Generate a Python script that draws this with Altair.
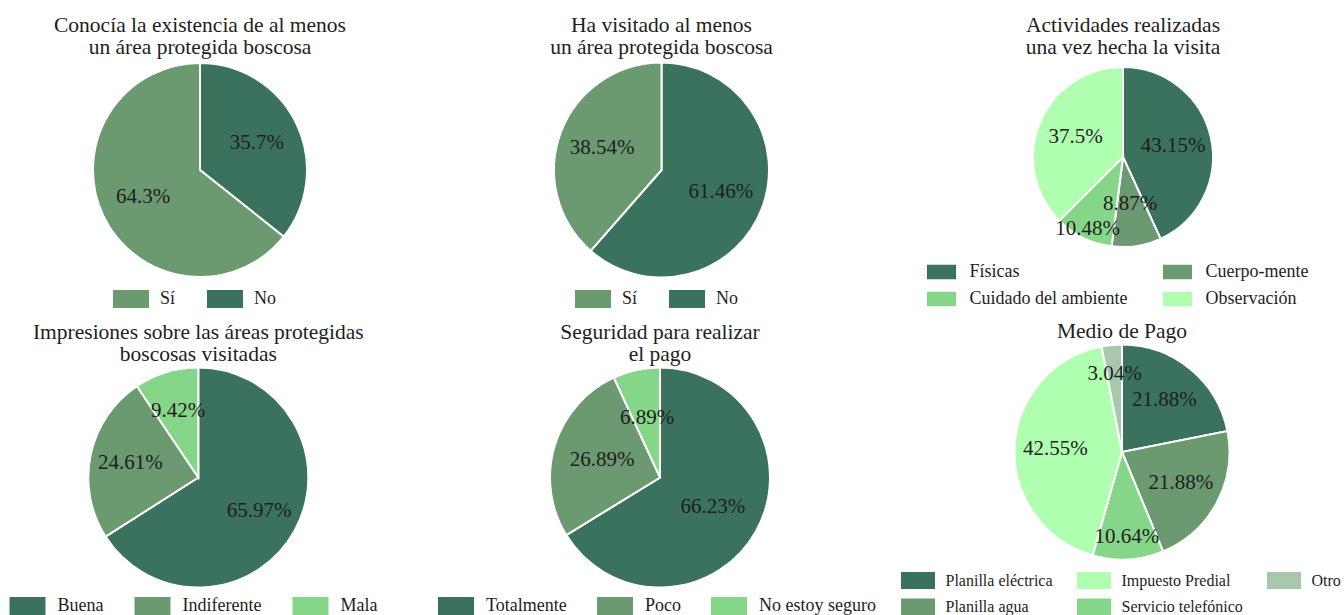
import math
import altair as alt
import pandas as pd

FONT = "Liberation Serif"
TXT = "#1e1e1e"

DARK = "#3a725e"
MID = "#6b9970"
LIGHT = "#85d689"
PALE = "#b0ffb0"
GREY = "#a8c7ac"

# ---------------- data ----------------
t1 = "Conocía la existencia de al menos\nun área protegida boscosa"
c1_cats = ["No", "Sí"]
c1_vals = [35.7, 64.3]
c1_legend = ["Sí", "No"]
c1_colors = [MID, DARK]

t2 = "Ha visitado al menos\nun área protegida boscosa"
c2_cats = ["No", "Sí"]
c2_vals = [61.46, 38.54]
c2_legend = ["Sí", "No"]
c2_colors = [MID, DARK]

t3 = "Actividades realizadas\nuna vez hecha la visita"
c3_cats = ["Físicas", "Cuerpo-mente", "Cuidado del ambiente", "Observación"]
c3_vals = [43.15, 8.87, 10.48, 37.5]
c3_legend = ["Físicas", "Cuerpo-mente", "Cuidado del ambiente", "Observación"]
c3_colors = [DARK, MID, LIGHT, PALE]

t4 = "Impresiones sobre las áreas protegidas\nboscosas visitadas"
c4_cats = ["Buena", "Indiferente", "Mala"]
c4_vals = [65.97, 24.61, 9.42]
c4_legend = ["Buena", "Indiferente", "Mala"]
c4_colors = [DARK, MID, LIGHT]

t5 = "Seguridad para realizar\nel pago"
c5_cats = ["Totalmente", "Poco", "No estoy seguro"]
c5_vals = [66.23, 26.89, 6.89]
c5_legend = ["Totalmente", "Poco", "No estoy seguro"]
c5_colors = [DARK, MID, LIGHT]

t6 = "Medio de Pago"
c6_cats = ["Planilla eléctrica", "Planilla agua", "Servicio telefónico", "Impuesto Predial", "Otro"]
c6_vals = [21.88, 21.88, 10.64, 42.55, 3.04]
c6_legend = ["Planilla eléctrica", "Impuesto Predial", "Otro", "Planilla agua", "Servicio telefónico"]
c6_colors = [DARK, PALE, GREY, MID, LIGHT]

# ---------------- layout (pixel placement of each panel) ----------------
layouts = [
    dict(cx=200, cy=170, r=107, ty=31.5, lx=113, ly=290, cols=2, h=18, fs=18, gap=12, cp=31, rp=0,
         lf=0.59, lover={}),
    dict(cx=661.5, cy=170, r=107.5, ty=31.5, lx=575, ly=290, cols=2, h=18, fs=18, gap=12, cp=31, rp=0,
         lf=0.59, lover={}),
    dict(cx=1123, cy=157, r=90, ty=31.5, lx=927, ly=263, cols=2, h=14.5, fs=18, gap=13, cp=35, rp=9,
         lf=0.57, lover={"Cuerpo-mente": 0.53, "Cuidado del ambiente": 0.89}),
    dict(cx=198.3, cy=477.5, r=110, ty=338.5, lx=9.5, ly=597, cols=3, h=18, fs=18, gap=13, cp=31, rp=0,
         lf=0.63, lover={}),
    dict(cx=660, cy=477.5, r=110, ty=338.5, lx=438, ly=597, cols=3, h=18, fs=18, gap=13, cp=30, rp=0,
         lf=0.55, lover={}),
    dict(cx=1122, cy=452, r=107.5, ty=338, lx=901, ly=572, cols=3, h=17, fs=16, gap=12, cp=24, rp=9.5,
         lf=0.62, lover={"Servicio telefónico": 0.79, "Otro": 0.73}),
]

series = [
    (t1, c1_cats, c1_vals, c1_legend, c1_colors),
    (t2, c2_cats, c2_vals, c2_legend, c2_colors),
    (t3, c3_cats, c3_vals, c3_legend, c3_colors),
    (t4, c4_cats, c4_vals, c4_legend, c4_colors),
    (t5, c5_cats, c5_vals, c5_legend, c5_colors),
    (t6, c6_cats, c6_vals, c6_legend, c6_colors),
]

SYMBOL = "M-2,-1H2V1H-2Z"


def make_pie(title, cats, vals, legend_order, colors, L):
    df = pd.DataFrame({
        "cat": cats,
        "val": vals,
        "idx": list(range(len(cats))),
        "label": [f"{v:g}%" for v in vals],
    })
    H = L["h"]
    S = max(math.ceil(H), L["fs"])
    extra = math.ceil(1.5 * H + 1) - S
    legend = alt.Legend(
        orient="none",
        direction="horizontal",
        legendX=L["lx"],
        legendY=L["ly"],
        columns=L["cols"],
        title=None,
        symbolType=SYMBOL,
        symbolSize=H * H,
        symbolOffset=H - S / 2,
        symbolStrokeWidth=0,
        symbolOpacity=1,
        labelOffset=2 * H + L["gap"] - S - extra,
        labelFont=FONT,
        labelFontSize=L["fs"],
        labelColor=TXT,
        labelLimit=400,
        columnPadding=L["cp"],
        rowPadding=L["rp"],
        padding=0,
    )
    # label radius expression (pixels)
    expr = str(L["r"] * L["lf"])
    for k, f in L["lover"].items():
        expr = f"datum.cat === '{k}' ? {L['r'] * f} : ({expr})"

    base = alt.Chart(df)
    arc = base.mark_arc(outerRadius=L["r"], stroke="white", strokeWidth=2).encode(
        theta=alt.Theta("val:Q", stack=True),
        color=alt.Color("cat:N", scale=alt.Scale(domain=legend_order, range=colors), legend=legend),
        order=alt.Order("idx:Q"),
        x=alt.value(L["cx"]),
        y=alt.value(L["cy"]),
    )
    txt = base.transform_window(
        cum="sum(val)", sort=[alt.SortField("idx")], frame=[None, 0]
    ).transform_calculate(
        mid="datum.cum - datum.val / 2", lr=expr
    ).mark_text(
        font=FONT, fontSize=21, color=TXT, align="center", baseline="middle"
    ).encode(
        theta=alt.Theta("mid:Q", stack=None),
        radius=alt.Radius("lr:Q", scale=None),
        text="label:N",
        x=alt.value(L["cx"]),
        y=alt.value(L["cy"]),
    )
    ttl = alt.Chart(pd.DataFrame({"t": [title]})).mark_text(
        font=FONT, fontSize=21.5, lineHeight=22, color=TXT, align="center",
        baseline="alphabetic", lineBreak="\n"
    ).encode(text="t:N", x=alt.value(L["cx"]), y=alt.value(L["ty"]))
    return alt.layer(arc, txt, ttl)


pies = [make_pie(*s, L) for s, L in zip(series, layouts)]

chart = alt.layer(*pies).resolve_scale(
    theta="independent", color="independent"
).properties(
    width=1344, height=615, padding=0, autosize="none", background="white"
).configure_view(stroke=None)

chart.save("out.html", embed_options={"renderer": "svg", "actions": False})
